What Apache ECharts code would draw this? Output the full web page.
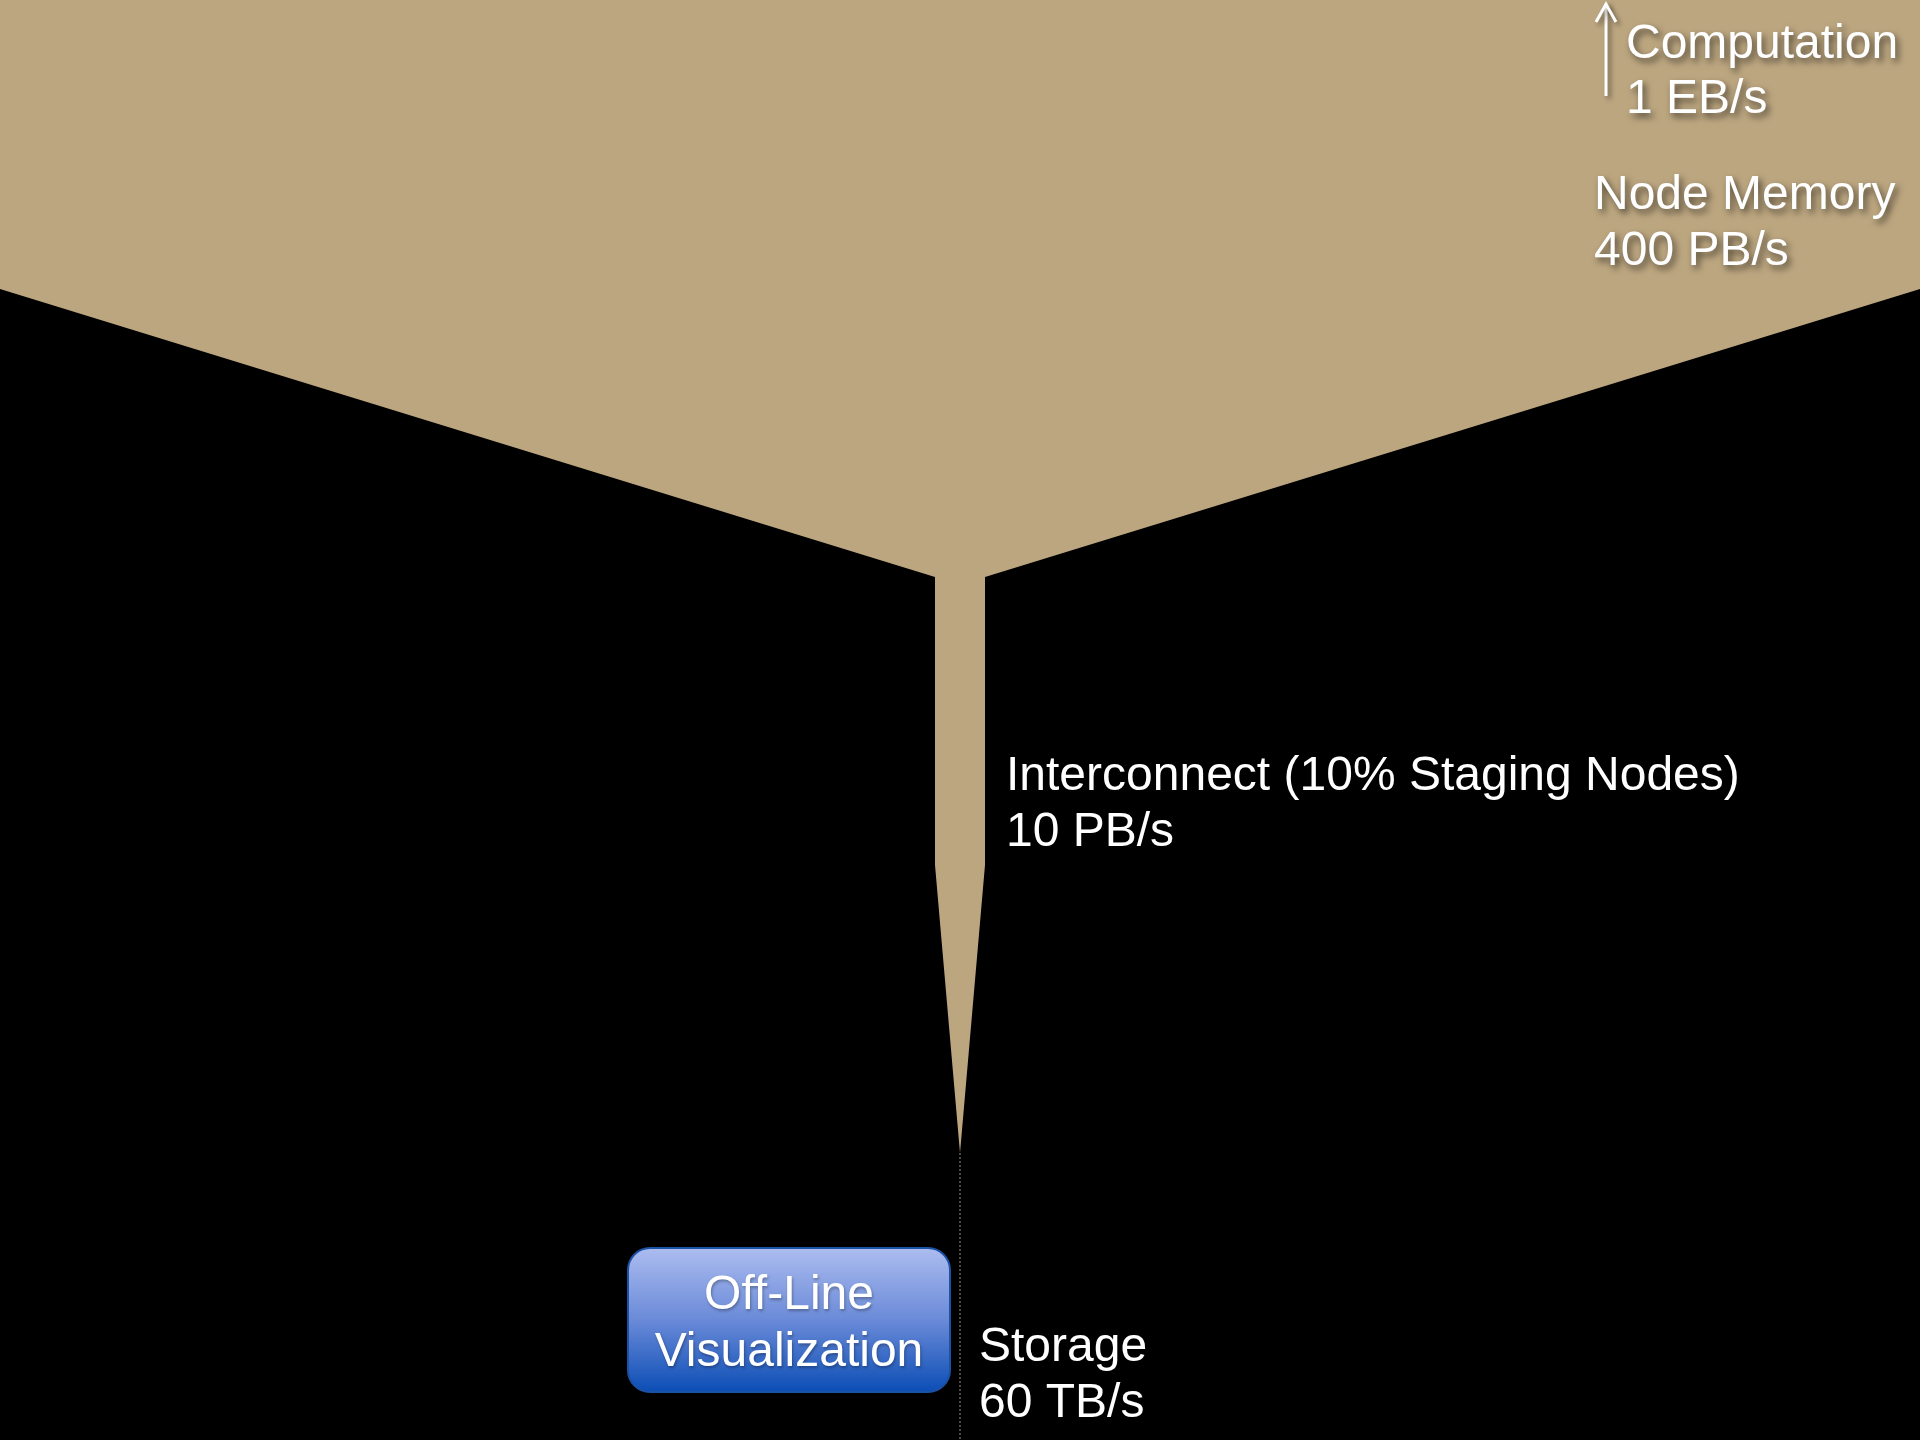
<!DOCTYPE html>
<html>
<head>
<meta charset="utf-8">
<style>
html,body{margin:0;padding:0;background:#000;}
#chart{width:1920px;height:1440px;}
</style>
<script src="https://cdn.jsdelivr.net/npm/echarts@6/dist/echarts.min.js"></script>
</head>
<body>
<div id="chart"></div>
<script>
// Stages of the data path and their bandwidths
const stages = ['Computation', 'Node Memory', 'Interconnect (10% Staging Nodes)', 'Storage'];
const rates = ['1 EB/s', '400 PB/s', '10 PB/s', '60 TB/s'];
const offlineLabel = ['Off-Line', 'Visualization'];

// Funnel profile: depth (top -> bottom) and full width of the tan shape
const profileDepth = [0, 289, 577, 865, 1153];
const profileWidth = [1920, 1920, 50, 50, 0];
// Trickle to storage below the funnel tip
const trickleDepth = [1153, 1440];

const TAN = '#bca680';
const FONT = '"Liberation Sans", Arial, sans-serif';

const chart = echarts.init(document.getElementById('chart'), null, {renderer: 'canvas'});

function funnelPolygon(params, api) {
  const left = [], right = [];
  for (let i = 0; i < profileDepth.length; i++) {
    const hw = profileWidth[i] / 2;
    left.push(api.coord([-hw, profileDepth[i]]));
    right.unshift(api.coord([hw, profileDepth[i]]));
  }
  return {
    type: 'polygon',
    shape: {points: left.concat(right)},
    style: {fill: TAN}
  };
}

const shadow = {
  textShadowColor: 'rgba(0,0,0,0.6)',
  textShadowBlur: 7,
  textShadowOffsetX: 3,
  textShadowOffsetY: 4
};

function label(x, y, lines, lh, extra) {
  return {
    type: 'text',
    x: x, y: y,
    silent: true,
    z: 100,
    style: Object.assign({
      text: lines.join('\n'),
      fill: '#ffffff',
      font: '48px ' + FONT,
      lineHeight: lh,
      verticalAlign: 'top',
      align: 'left'
    }, extra || {})
  };
}

const option = {
  backgroundColor: '#000000',
  animation: false,
  grid: {left: 0, right: 0, top: 0, bottom: 0},
  xAxis: {type: 'value', min: -960, max: 960, show: false},
  yAxis: {type: 'value', min: 0, max: 1440, inverse: true, show: false},
  series: [
    {
      type: 'custom',
      coordinateSystem: 'cartesian2d',
      data: [[0, 0]],
      renderItem: funnelPolygon,
      silent: true
    },
    {
      type: 'line',
      data: trickleDepth.map(d => [0, d]),
      symbol: 'none',
      lineStyle: {color: '#6a604f', width: 1.5, type: [2, 2]},
      silent: true
    }
  ],
  graphic: [
    // arrow for computation
    {
      type: 'polyline', silent: true, z: 90,
      shape: {points: [[1606, 96], [1606, 4]]},
      style: {stroke: '#fff', lineWidth: 3, shadowColor: 'rgba(0,0,0,0.45)', shadowBlur: 5, shadowOffsetX: 3, shadowOffsetY: 3}
    },
    {
      type: 'polyline', silent: true, z: 90,
      shape: {points: [[1596, 22], [1606, 4], [1616, 22]]},
      style: {stroke: '#fff', lineWidth: 3, lineJoin: 'miter', fill: null, shadowColor: 'rgba(0,0,0,0.45)', shadowBlur: 5, shadowOffsetX: 3, shadowOffsetY: 3}
    },
    label(1626, 17, [stages[0], rates[0]], 55, shadow),
    label(1594, 168, [stages[1], rates[1]], 56, shadow),
    label(1006, 749, [stages[2], rates[2]], 56),
    label(979, 1320, [stages[3], rates[3]], 56),
    // off-line visualization box
    {
      type: 'rect', silent: true, z: 80,
      shape: {x: 628, y: 1248, width: 322, height: 144, r: 22},
      style: {
        fill: new echarts.graphic.LinearGradient(0, 0, 0, 1, [
          {offset: 0, color: '#adbdf0'},
          {offset: 0.5, color: '#6a8ad8'},
          {offset: 1, color: '#0a4db5'}
        ]),
        stroke: '#1c52a6',
        lineWidth: 2
      }
    },
    label(789, 1267, offlineLabel, 57, {align: 'center', textShadowColor: 'rgba(0,0,0,0.3)', textShadowBlur: 3, textShadowOffsetX: 1, textShadowOffsetY: 2})
  ]
};

chart.setOption(option);
</script>
</body>
</html>
